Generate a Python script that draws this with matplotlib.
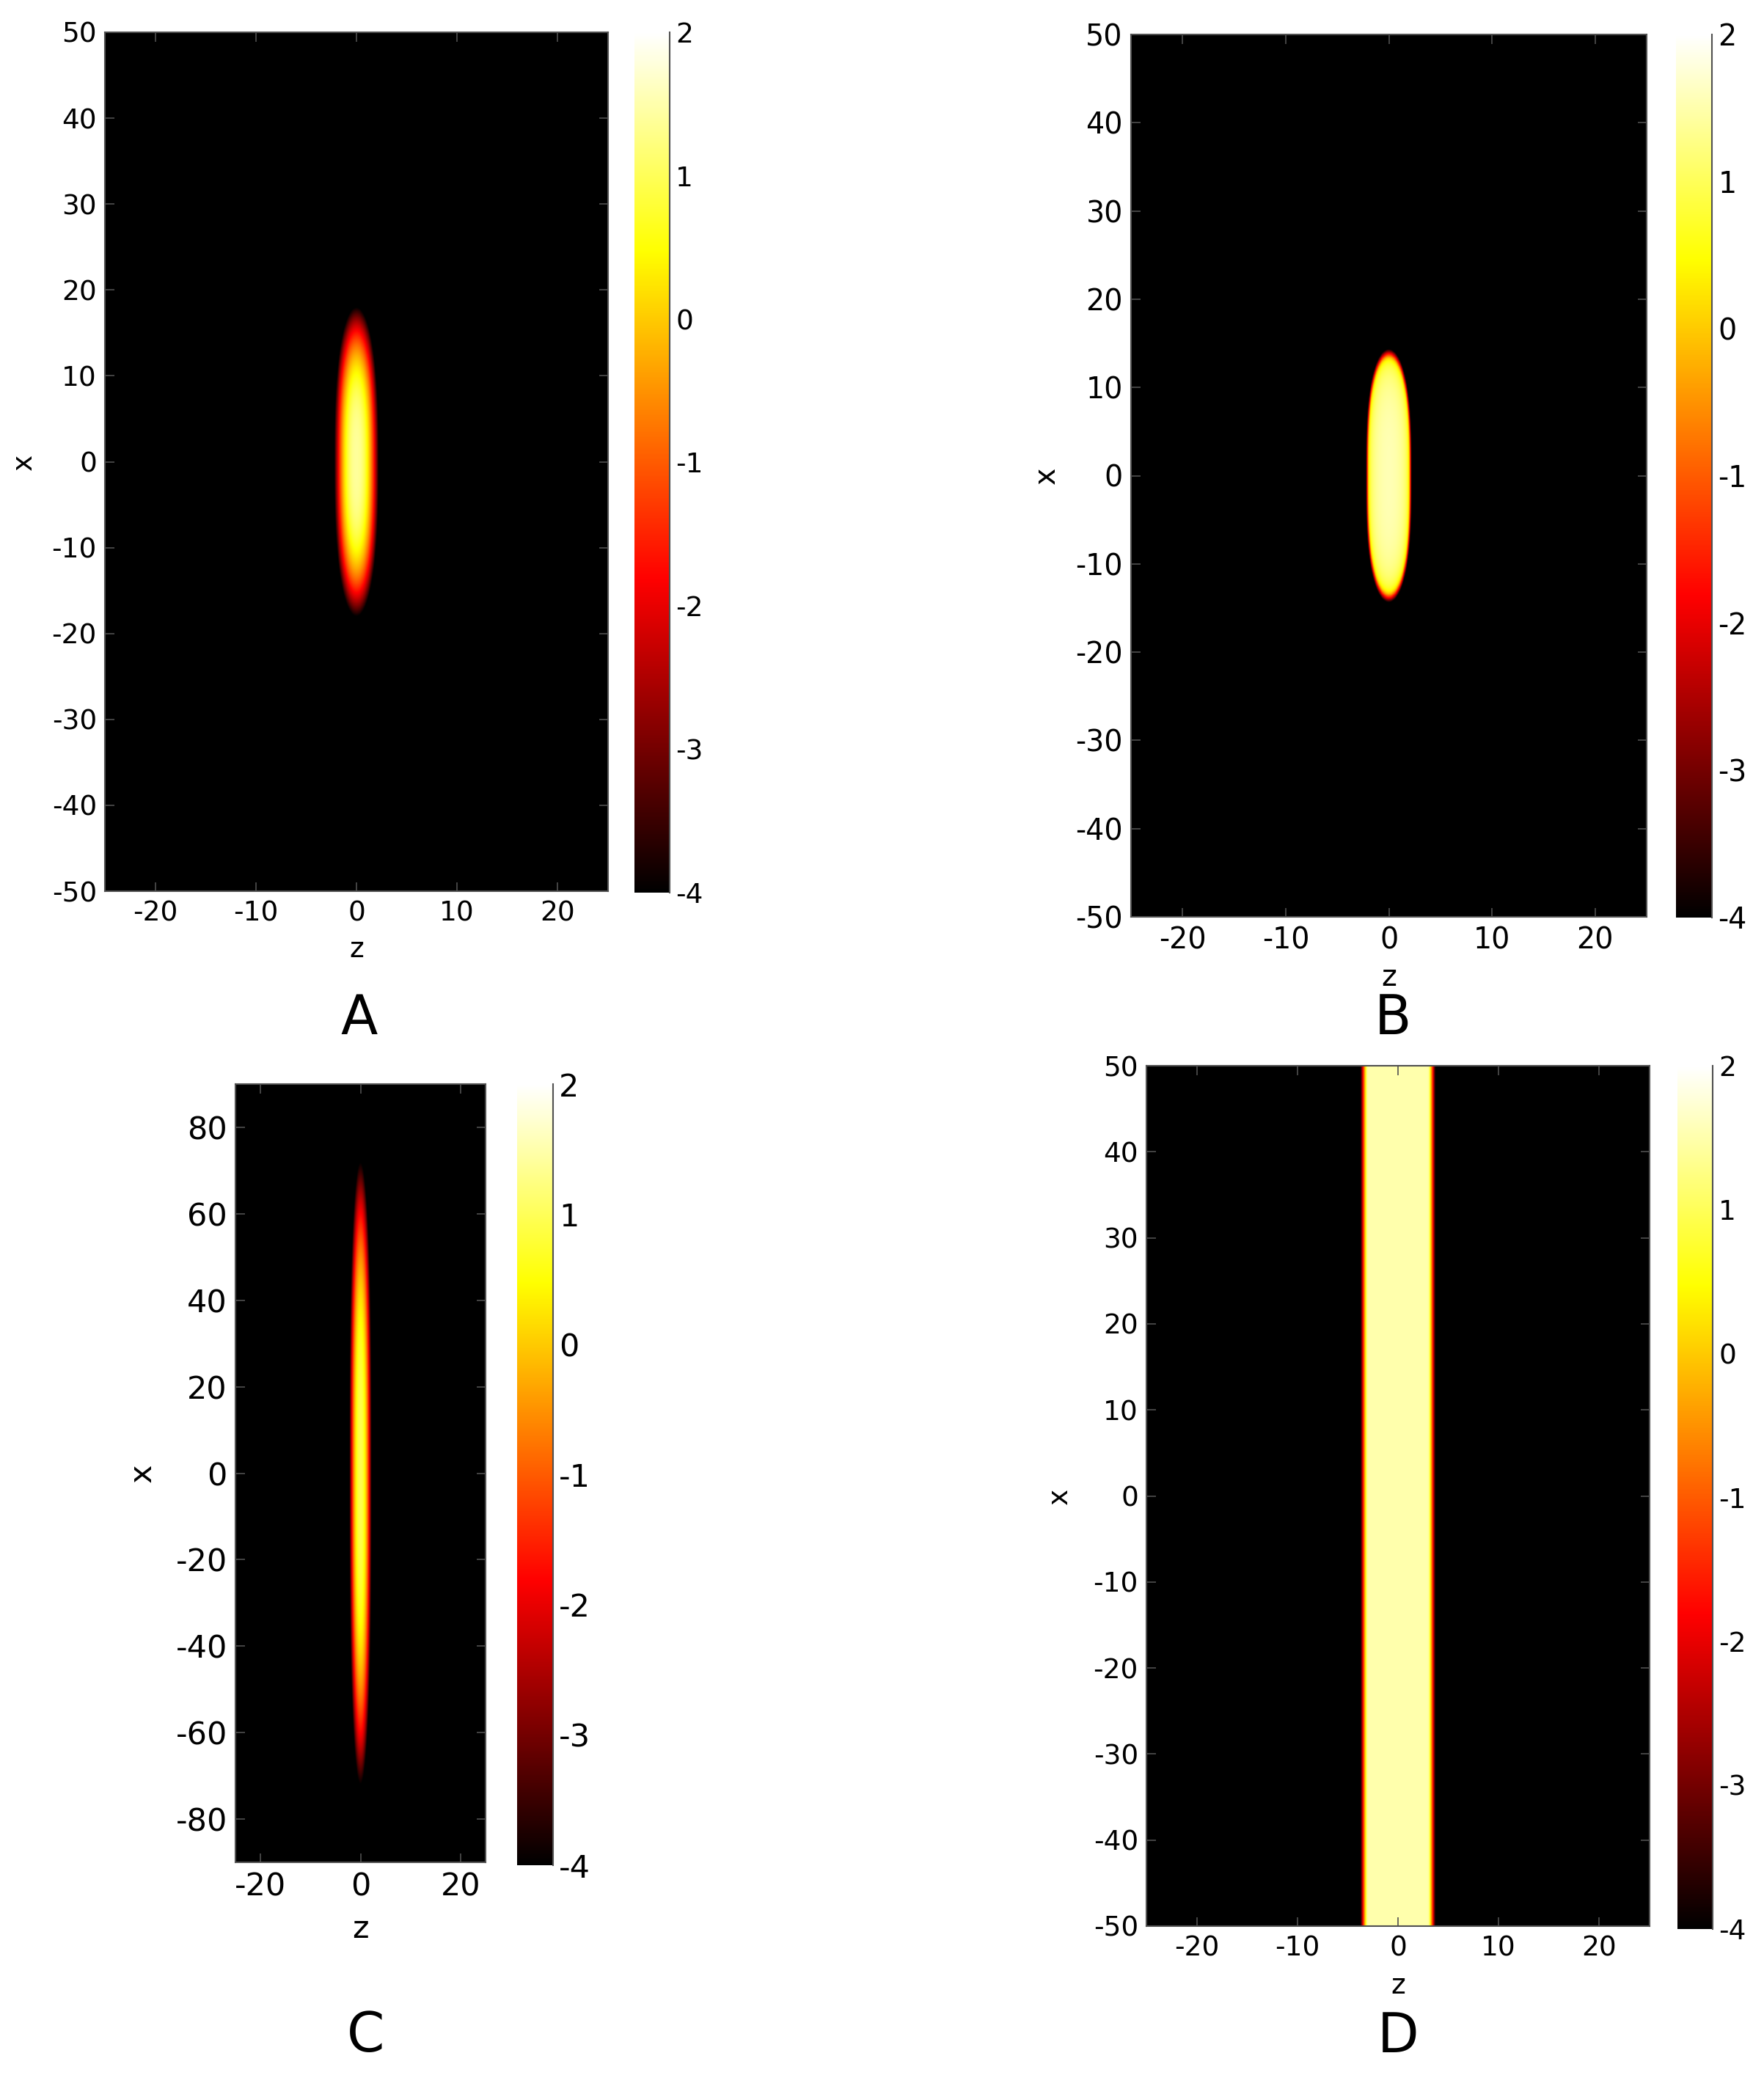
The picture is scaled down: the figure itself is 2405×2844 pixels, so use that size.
import numpy as np
import matplotlib
matplotlib.use("Agg")
import matplotlib.pyplot as plt
from matplotlib.colors import Normalize, ListedColormap
from matplotlib.lines import Line2D

# ---------------- data ----------------
panel_labels = ["A", "B", "C", "D"]
z_limits = [(-25, 25), (-25, 25), (-25, 25), (-25, 25)]
x_limits = [(-50, 50), (-50, 50), (-90, 90), (-50, 50)]
z_ticks = [[-20, -10, 0, 10, 20], [-20, -10, 0, 10, 20], [-20, 0, 20], [-20, -10, 0, 10, 20]]
x_ticks = [list(range(-50, 51, 10)), list(range(-50, 51, 10)),
           list(range(-80, 81, 20)), list(range(-50, 51, 10))]
cbar_ticks = [2, 1, 0, -1, -2, -3, -4]
log_min, log_max = -4.0, 2.0

# log10 density model parameters per panel
profile_kind = ["smooth", "tf", "smooth", "slab"]
peak_log = [1.4, 1.55, 0.95, 1.5]          # log10 of peak density
size_z = [2.2, 2.0, 2.2, 3.1]              # half-size along z
size_x = [18.0, 13.4, 72.0, 0.0]           # half-size along x (0 = uniform)
power_z = [2.4, 2.0, 2.33, 0.0]            # radial exponent in z
power_x = [2.63, 3.0, 2.82, 0.0]           # superellipse exponent in x
edge_soft = [0.0, 0.025, 0.0, 0.05]        # edge softness

# ---------------- layout (pixels of 2405x2844) ----------------
W, H, DPI = 2405, 2844, 100
ax_px = [(143, 44, 829, 1215), (1542, 47, 2245, 1250), (321, 1478, 662, 2539), (1563, 1453, 2249, 2626)]
cb_px = [(865, 44, 913, 1217), (2285, 47, 2334, 1251), (705, 1478, 754, 2543), (2287, 1453, 2335, 2630)]
ylab_off = [110, 115, 127, 118]
xlab_off = [80, 83, 91, 82]
letter_pos = [(490, 1389), (1899, 1389), (499, 2777), (1906, 2777)]
tick_fs = [27, 28.5, 31, 27]


def frac(box):
    l, t, r, b = box
    return [l / W, 1 - b / H, (r - l) / W, (b - t) / H]


def field(i, Z, X):
    kind = profile_kind[i]
    p = peak_log[i]
    if kind == "smooth":
        rho = np.sqrt(np.abs(Z / size_z[i]) ** 2 + np.abs(X / size_x[i]) ** power_x[i])
        v = p - (p - log_min) * rho ** power_z[i]
    elif kind == "tf":
        w = edge_soft[i]
        r2 = (Z / size_z[i]) ** 2 + np.abs(X / size_x[i]) ** power_x[i]
        arg = (1 - r2) / w
        n = w * np.logaddexp(0, arg)
        v = p + np.log10(np.maximum(n, 1e-30))
    else:
        w = edge_soft[i]
        arg = (np.abs(Z) - size_z[i]) / w
        v = p - np.logaddexp(0, arg) / np.log(10)
    return np.clip(v, log_min, log_max)


# MATLAB-like 'hot' starting at pure black
t = np.linspace(0, 1, 512)
r = np.clip(t / 0.365, 0, 1)
g = np.clip((t - 0.365) / (0.746 - 0.365), 0, 1)
b = np.clip((t - 0.746) / (1 - 0.746), 0, 1)
hot_cmap = ListedColormap(np.column_stack([r, g, b]))

plt.rcParams['font.family'] = ['DejaVu Sans']
plt.rcParams['axes.unicode_minus'] = False
fig = plt.figure(figsize=(W / DPI, H / DPI), dpi=DPI)
norm = Normalize(vmin=log_min, vmax=log_max)
spine_col = '#505050'

for i in range(4):
    ax = fig.add_axes(frac(ax_px[i]))
    z = np.linspace(z_limits[i][0], z_limits[i][1], 800)
    x = np.linspace(x_limits[i][0], x_limits[i][1], 1400)
    Z, X = np.meshgrid(z, x)
    V = field(i, Z, X)
    im = ax.imshow(V, cmap=hot_cmap, norm=norm, origin='lower', aspect='auto',
                   extent=[z[0], z[-1], x[0], x[-1]], interpolation='bilinear')
    ax.set_xlim(*z_limits[i])
    ax.set_ylim(*x_limits[i])
    ax.set_xticks(z_ticks[i])
    ax.set_yticks(x_ticks[i])
    ax.tick_params(direction='in', length=9, width=1.2, color=spine_col,
                   top=True, right=True, labelsize=tick_fs[i])
    ax.tick_params(axis='x', pad=9)
    ax.tick_params(axis='y', pad=8)
    for s in ax.spines.values():
        s.set_color(spine_col)
        s.set_linewidth(1.5)
    axw = ax_px[i][2] - ax_px[i][0]
    axh = ax_px[i][3] - ax_px[i][1]
    ax.set_xlabel('z', fontsize=tick_fs[i])
    ax.xaxis.label.set_va('center')
    ax.xaxis.set_label_coords(0.5, -xlab_off[i] / axh)
    ax.set_ylabel('x', fontsize=tick_fs[i])
    ax.yaxis.label.set_va('center')
    ax.yaxis.set_label_coords(-ylab_off[i] / axw, 0.5)

    cax = fig.add_axes(frac(cb_px[i]))
    cb = fig.colorbar(im, cax=cax, ticks=cbar_ticks)
    cb.outline.set_visible(False)
    cax.tick_params(length=0, pad=6, labelsize=tick_fs[i])
    cax.add_line(Line2D([1, 1], [0, 1], transform=cax.transAxes, color=spine_col,
                        linewidth=1.5, clip_on=False))

    lx, ly = letter_pos[i]
    fig.text(lx / W, 1 - ly / H, panel_labels[i], ha='center', va='center', fontsize=53)

fig.savefig('out.png', dpi=DPI, facecolor='white')
